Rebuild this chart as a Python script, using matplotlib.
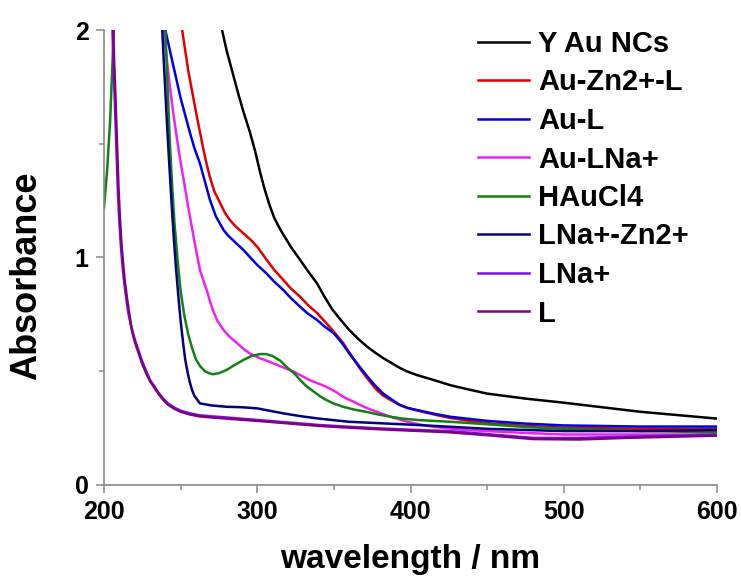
import numpy as np
import matplotlib
matplotlib.use("Agg")
import matplotlib.pyplot as plt
from matplotlib.ticker import MultipleLocator

plt.rcParams['font.family'] = ['Liberation Sans', 'DejaVu Sans']
plt.rcParams['font.weight'] = 'bold'

# Spectra (wavelength in nm, absorbance)
wl_y_au = [275, 277, 280, 284, 288, 291, 295, 298.5, 302, 305, 308, 311, 314, 317, 322, 328, 333, 339, 344, 349, 355, 360, 366, 372, 377, 382, 388, 393, 398, 404, 410, 415, 426, 438, 450, 475, 500, 550, 600]
abs_y_au = [2.1, 2.0, 1.91, 1.81, 1.71, 1.64, 1.555, 1.47, 1.37, 1.295, 1.23, 1.175, 1.135, 1.10, 1.045, 0.988, 0.94, 0.885, 0.825, 0.77, 0.72, 0.68, 0.64, 0.605, 0.58, 0.557, 0.533, 0.513, 0.497, 0.482, 0.47, 0.46, 0.437, 0.418, 0.40, 0.378, 0.36, 0.32, 0.29]

wl_au_zn_l = [249, 251, 253, 255, 257.5, 260, 262.5, 265, 267, 269, 272, 276, 279, 282, 286, 291, 296, 300, 306, 311, 317, 322, 328, 333, 339, 344, 349, 356, 362, 367, 371, 375, 378, 382, 387, 392, 398, 404, 411, 418, 426, 440, 450, 475, 500, 550, 600]
abs_au_zn_l = [2.1, 2.0, 1.91, 1.82, 1.73, 1.64, 1.555, 1.47, 1.41, 1.355, 1.29, 1.235, 1.195, 1.165, 1.135, 1.105, 1.075, 1.046, 0.99, 0.945, 0.90, 0.862, 0.826, 0.79, 0.755, 0.718, 0.68, 0.623, 0.561, 0.51, 0.474, 0.44, 0.416, 0.392, 0.372, 0.353, 0.337, 0.326, 0.315, 0.304, 0.293, 0.278, 0.27, 0.258, 0.25, 0.245, 0.245]

wl_au_l = [238.5, 240, 242.5, 245, 247.5, 250, 253, 256, 259, 262.6, 266, 269, 273, 278, 281, 284, 291, 296, 300, 306, 311, 317, 322, 328, 333, 339, 344, 350, 355, 360, 366, 372, 377, 382, 388, 393, 398, 404, 415, 426, 450, 475, 500, 550, 600]
abs_au_l = [2.1, 2.0, 1.925, 1.85, 1.775, 1.70, 1.625, 1.55, 1.48, 1.413, 1.33, 1.255, 1.18, 1.12, 1.095, 1.076, 1.032, 0.995, 0.966, 0.929, 0.893, 0.856, 0.82, 0.782, 0.752, 0.724, 0.695, 0.665, 0.625, 0.577, 0.525, 0.474, 0.435, 0.401, 0.373, 0.35, 0.337, 0.328, 0.312, 0.298, 0.28, 0.268, 0.26, 0.255, 0.255]

wl_au_lna = [238, 239, 241, 243, 245, 247, 249, 251, 253, 255, 257, 259, 261, 262.6, 265, 267, 269, 271, 274, 278, 282, 287, 291, 295, 302, 308, 313, 318, 324, 329, 334, 340, 345, 351, 356, 362, 367, 372, 378, 387, 398, 406, 415, 430, 450, 475, 500, 550, 600]
abs_au_lna = [2.1, 2.0, 1.87, 1.75, 1.645, 1.55, 1.46, 1.38, 1.30, 1.22, 1.145, 1.07, 1.0, 0.944, 0.895, 0.856, 0.81, 0.768, 0.72, 0.68, 0.65, 0.621, 0.597, 0.577, 0.555, 0.54, 0.526, 0.512, 0.496, 0.478, 0.46, 0.444, 0.43, 0.409, 0.386, 0.367, 0.35, 0.335, 0.32, 0.298, 0.276, 0.264, 0.254, 0.243, 0.235, 0.227, 0.22, 0.22, 0.22]

wl_haucl4 = [200, 202, 204, 205.5, 207, 220, 239, 240, 241.5, 243, 244.5, 246, 248, 250, 252.5, 255, 257.5, 260, 263, 266, 268.5, 271, 275, 280, 285, 291, 296, 302, 306, 310, 315, 319, 324, 328, 332, 337, 341, 345, 350, 356, 363, 371, 379, 387, 395, 404, 415, 426, 450, 475, 500, 550, 600]
abs_haucl4 = [1.22, 1.38, 1.60, 1.85, 2.1, np.nan, 2.1, 2.0, 1.75, 1.5, 1.31, 1.15, 0.99, 0.85, 0.74, 0.66, 0.60, 0.55, 0.518, 0.498, 0.49, 0.485, 0.49, 0.504, 0.525, 0.548, 0.565, 0.574, 0.574, 0.565, 0.545, 0.518, 0.49, 0.46, 0.433, 0.408, 0.388, 0.372, 0.356, 0.342, 0.33, 0.32, 0.308, 0.298, 0.29, 0.284, 0.28, 0.276, 0.265, 0.253, 0.245, 0.235, 0.23]

wl_lna_zn = [237, 238, 239.5, 241, 242.5, 244, 245.5, 247, 248.5, 250, 251.5, 253, 254.5, 256, 257.5, 259, 262.6, 270, 280, 290, 300, 310, 317, 328, 339, 350, 360, 382, 404, 426, 450, 500, 550, 600]
abs_lna_zn = [2.1, 2.0, 1.8, 1.6, 1.42, 1.25, 1.09, 0.95, 0.83, 0.72, 0.63, 0.55, 0.495, 0.45, 0.415, 0.39, 0.357, 0.348, 0.342, 0.34, 0.335, 0.322, 0.313, 0.301, 0.291, 0.283, 0.276, 0.269, 0.262, 0.254, 0.245, 0.235, 0.235, 0.24]

wl_lna = [205, 205.5, 206.2, 207, 208, 209, 210, 211, 212, 213, 214.5, 216, 218, 220, 222.5, 225, 227.5, 230, 233, 236, 239, 242, 246, 250, 256, 262, 270, 280, 300, 320, 340, 360, 380, 400, 425, 450, 480, 510, 540, 570, 600]
abs_lna = [2.1, 2.0, 1.85, 1.7, 1.5, 1.3, 1.16, 1.05, 0.97, 0.9, 0.82, 0.75, 0.69, 0.64, 0.59, 0.54, 0.5, 0.46, 0.43, 0.40, 0.375, 0.355, 0.338, 0.325, 0.313, 0.305, 0.3, 0.295, 0.284, 0.273, 0.262, 0.254, 0.247, 0.241, 0.235, 0.222, 0.205, 0.205, 0.21, 0.215, 0.22]

wl_l = [205.5, 206, 206.7, 207.5, 208.5, 209.5, 210.5, 211.5, 212.5, 213.5, 215, 216.5, 218, 220, 222.5, 225, 227.5, 230, 233, 236, 239, 242, 246, 250, 256, 262, 270, 280, 300, 320, 340, 360, 380, 400, 425, 450, 480, 510, 540, 570, 600]
abs_l = [2.1, 2.0, 1.85, 1.7, 1.5, 1.3, 1.16, 1.05, 0.97, 0.9, 0.82, 0.75, 0.685, 0.63, 0.58, 0.53, 0.49, 0.455, 0.425, 0.395, 0.37, 0.35, 0.333, 0.32, 0.308, 0.30, 0.295, 0.29, 0.28, 0.269, 0.258, 0.25, 0.243, 0.237, 0.23, 0.217, 0.20, 0.198, 0.205, 0.21, 0.215]

series = [
    ("Y Au NCs", wl_y_au, abs_y_au, "#000000"),
    ("Au-Zn2+-L", wl_au_zn_l, abs_au_zn_l, "#e00000"),
    ("Au-L", wl_au_l, abs_au_l, "#0000e0"),
    ("Au-LNa+", wl_au_lna, abs_au_lna, "#ee22ee"),
    ("HAuCl4", wl_haucl4, abs_haucl4, "#138013"),
    ("LNa+-Zn2+", wl_lna_zn, abs_lna_zn, "#000080"),
    ("LNa+", wl_lna, abs_lna, "#7a10e8"),
    ("L", wl_l, abs_l, "#800080"),
]

fig = plt.figure(figsize=(7.41, 5.76), dpi=100)
ax = fig.add_axes([104 / 741, 1 - 484.5 / 576, 613 / 741, 454.5 / 576])

for label, x, y, color in series:
    ax.plot(x, y, color=color, lw=1.8, label=label)

ax.set_xlim(200, 600)
ax.set_ylim(0, 2)
ax.xaxis.set_major_locator(MultipleLocator(100))
ax.xaxis.set_minor_locator(MultipleLocator(50))
ax.yaxis.set_major_locator(MultipleLocator(1))
ax.yaxis.set_minor_locator(MultipleLocator(0.5))

for side in ['top', 'right']:
    ax.spines[side].set_visible(False)
for side in ['left', 'bottom']:
    ax.spines[side].set_color('#888888')
    ax.spines[side].set_linewidth(1.2)

ax.tick_params(which='major', length=6, width=1.1, color='#888888', labelsize=18, pad=5)
ax.tick_params(which='minor', length=3.5, width=1.1, color='#888888')
for lab in ax.get_xticklabels() + ax.get_yticklabels():
    lab.set_fontweight('bold')

ax.set_xlabel('wavelength / nm', fontsize=24, fontweight='bold')
ax.xaxis.set_label_coords(0.5, -(544 - 484.5) / 454.5)
ax.set_ylabel('Absorbance', fontsize=26, fontweight='bold')
ax.yaxis.set_label_coords((44 - 104) / 613, 0.459)

leg = ax.legend(loc='upper left', bbox_to_anchor=(478 / 741, 1 - 30 / 576),
                bbox_transform=fig.transFigure, frameon=False, fontsize=21,
                handlelength=1.75, handletextpad=0.3, labelspacing=0.36,
                borderpad=0, borderaxespad=0)
for t in leg.get_texts():
    t.set_fontweight('bold')

fig.savefig('out.png', dpi=100)
